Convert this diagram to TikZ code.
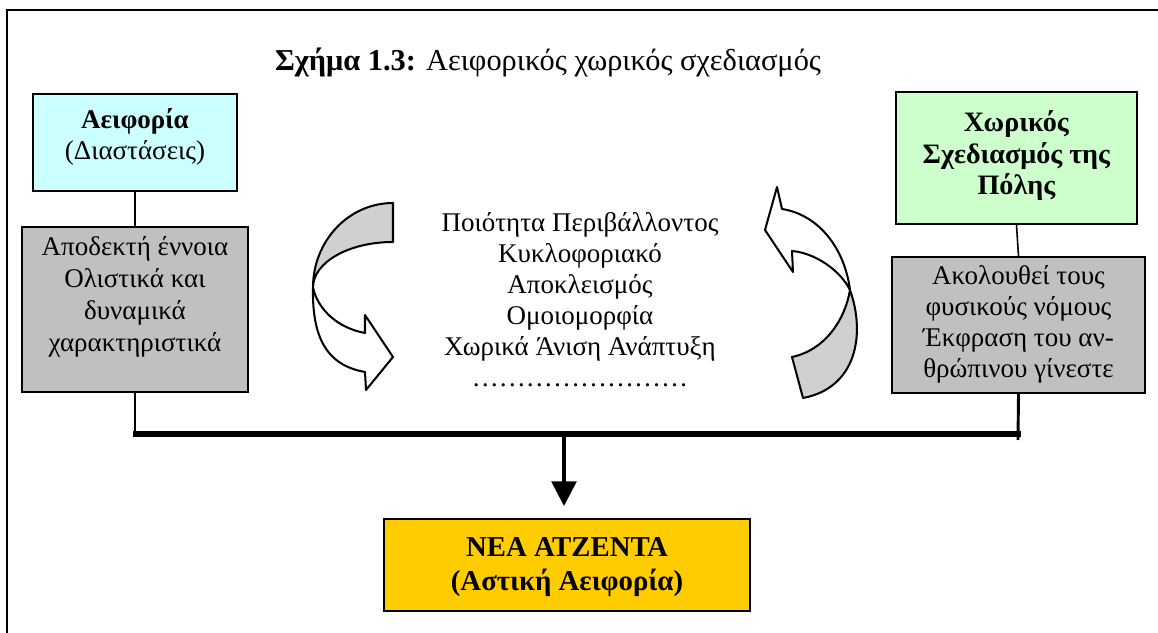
\documentclass[tikz,border=0pt]{standalone}
\usepackage{fontspec}
\setmainfont{Liberation Serif}
\usetikzlibrary{arrows.meta}
\definecolor{cyanbox}{HTML}{CCFFFF}
\definecolor{greenbox}{HTML}{CCFFCC}
\definecolor{graybox}{HTML}{C0C0C0}
\definecolor{yellowbox}{HTML}{FFCC00}
\definecolor{bandgray}{HTML}{D0D0D0}
\begin{document}
\begin{tikzpicture}[x=0.4444pt,y=-0.4444pt,
  box/.style={draw=black, line width=0.9pt, inner sep=0pt},
  txt/.style={align=center, inner sep=0pt, font=\fontsize{12}{13.8}\selectfont},
  thinline/.style={line width=0.7pt},
  thickline/.style={line width=1.3pt},
  barline/.style={line width=2.3pt},
  frameline/.style={line width=1.1pt},
  curved/.style={draw=black, line width=0.9pt, line join=round}]
\useasboundingbox (0,0) rectangle (1158,633);
% frame
\coordinate (fBL) at (7,633);
\coordinate (fTL) at (7,10);
\coordinate (fTR) at (1158,10);
\draw[frameline] (fBL) -- (fTL) -- (fTR);
% title
\node[txt, font=\fontsize{13.5}{16}\selectfont] (title) at (548,62) {\textbf{Σχήμα 1.3:} Αειφορικός χωρικός σχεδιασμός};
% left boxes
\node[box, fill=cyanbox, minimum width=90.7pt, minimum height=43.1pt] (cyan) at (135,142.5) {};
\node[txt] (cyantext) at (135,137) {\textbf{Αειφορία}\\(Διαστάσεις)};
\node[box, fill=graybox, minimum width=100.4pt, minimum height=73.3pt] (gl) at (135,309.5) {};
\node[txt, font=\fontsize{12}{14.2}\selectfont] (gltext) at (135,297) {Αποδεκτή έννοια\\Ολιστικά και\\δυναμικά\\χαρακτηριστικά};
% right boxes
\node[box, fill=greenbox, minimum width=107.1pt, minimum height=58.7pt] (green) at (1016.5,158) {};
\node[txt, font=\fontsize{12.5}{14}\selectfont] (greentext) at (1016.5,156) {\textbf{Χωρικός}\\\textbf{Σχεδιασμός της}\\\textbf{Πόλης}};
\node[box, fill=graybox, minimum width=112.4pt, minimum height=60.4pt] (gr) at (1018.5,325) {};
\node[txt] (grtext) at (1018.5,324) {Ακολουθεί τους\\φυσικούς νόμους\\Έκφραση του αν-\\θρώπινου γίνεστε};
% bottom box
\node[box, fill=yellowbox, minimum width=162.7pt, minimum height=40.9pt] (yellow) at (567,565) {};
\node[txt, font=\fontsize{12.8}{14.8}\selectfont] (yellowtext) at (567,567) {\textbf{ΝΕΑ ΑΤΖΕΝΤΑ}\\\textbf{(Αστική Αειφορία)}};
% centre list
\node[txt] (list) at (580,300) {Ποιότητα Περιβάλλοντος\\Κυκλοφοριακό\\Αποκλεισμός\\Ομοιομορφία\\Χωρικά Άνιση Ανάπτυξη\\……………………};
% connectors
\draw[thinline] (cyan.south) -- (gl.north);
\draw[thinline] (green.south) -- (gr.north);
\coordinate (barL) at (133,434);
\coordinate (barR) at (1021,434);
\coordinate (barM) at (564,434);
\coordinate (grEnd) at (1018,440);
\draw[thickline] (gl.south) -- (gl.south |- barL);
\draw[thickline] (gr.south) -- (grEnd);
\draw[barline] (barL) -- (barR);
\draw[line width=1.6pt, -{Triangle[width=11pt,length=11pt]}, shorten >=5.3pt] (barM) -- (barM |- yellow.north);
% left curved arrow
\filldraw[curved, fill=bandgray] (393,203) .. controls (348.8,203) and (313,240.8) .. (313,287.5)
   .. controls (313,262.4) and (348.8,242) .. (393,242) -- cycle;
\filldraw[curved, fill=white] (313,287.5) .. controls (312,335) and (325,365) .. (365,372)
   -- (366,390) -- (393,357) -- (365,315) -- (365,333)
   .. controls (338,328) and (318,310) .. (313,287.5) -- cycle;
% right curved arrow
\filldraw[curved, fill=bandgray] (850,290) .. controls (866,335) and (856,388) .. (803,398)
   -- (792,357) .. controls (825,350) and (845,320) .. (850,290) -- cycle;
\filldraw[curved, fill=white] (765,230) -- (777,187) -- (782,209)
   .. controls (820,215) and (845,250) .. (850,290)
   .. controls (840,270) and (815,253) .. (792,251)
   -- (793,272) -- cycle;
\end{tikzpicture}
\end{document}
